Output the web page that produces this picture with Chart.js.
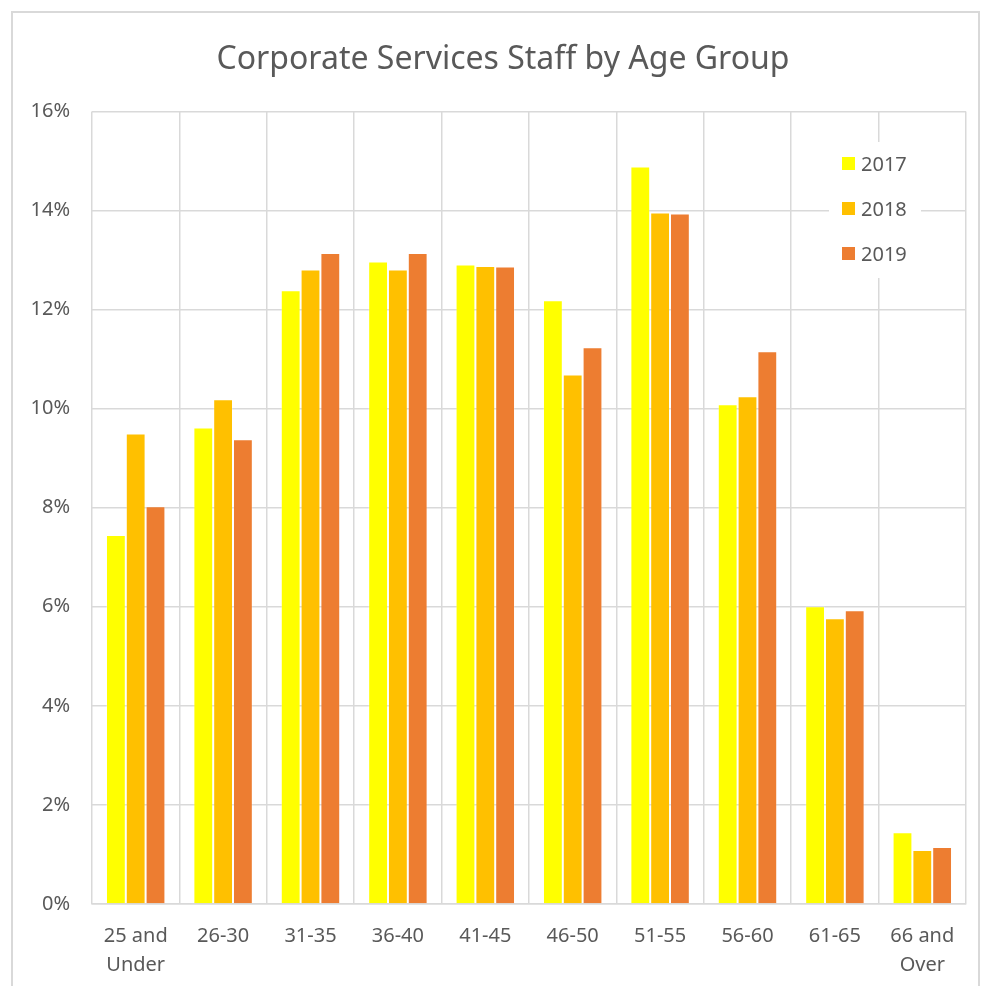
<!DOCTYPE html>
<html>
<head>
<meta charset="utf-8">
<script src="https://cdn.jsdelivr.net/npm/chart.js@4.4.1/dist/chart.umd.min.js"></script>
<style>
  html, body { margin: 0; padding: 0; background: #fff; overflow: hidden; width: 982px; height: 986px; }
  #frame { position: absolute; left: 11px; top: 11px; width: 965px; height: 990px; border: 2px solid #d9d9d9; }
  #wrap { position: absolute; left: 0; top: 0; width: 1022px; height: 986px; }
</style>
</head>
<body>
<div id="frame"></div>
<div id="wrap"><canvas id="grafica"></canvas></div>
<script>
const categorias = [['25 and', 'Under'], '26-30', '31-35', '36-40', '41-45', '46-50', '51-55', '56-60', '61-65', ['66 and', 'Over']];
const anios = ['2017', '2018', '2019'];
const valores2017 = [7.45, 9.62, 12.39, 12.97, 12.91, 12.19, 14.89, 10.09, 6.01, 1.45];
const valores2018 = [9.50, 10.19, 12.81, 12.81, 12.88, 10.69, 13.96, 10.25, 5.77, 1.09];
const valores2019 = [8.03, 9.38, 13.14, 13.14, 12.87, 11.24, 13.94, 11.16, 5.93, 1.15];
const colores = ['#FFFF00', '#FFC000', '#ED7D31'];
const ticksY = [0, 2, 4, 6, 8, 10, 12, 14, 16];

const fuente = "'Noto Sans', sans-serif";
const gris = '#595959';

// legend drawn inside the plot area (top right), like the original
const leyendaInterna = {
  id: 'leyendaInterna',
  afterDatasetsDraw(chart) {
    const ctx = chart.ctx;
    const x0 = 829, y0 = 142;
    ctx.save();
    ctx.fillStyle = '#fff';
    ctx.fillRect(x0, y0, 92, 136);
    ctx.font = '20px ' + fuente;
    ctx.textBaseline = 'middle';
    chart.data.datasets.forEach((ds, i) => {
      const y = 164 + i * 45;
      ctx.fillStyle = ds.backgroundColor;
      ctx.fillRect(842, y - 7, 13, 13);
      ctx.fillStyle = gris;
      ctx.fillText(ds.label, 861, y + 1);
    });
    ctx.restore();
  }
};

const series = [valores2017, valores2018, valores2019];

new Chart(document.getElementById('grafica'), {
  type: 'bar',
  data: {
    labels: categorias,
    datasets: anios.map((a, i) => ({
      label: a,
      data: series[i],
      backgroundColor: colores[i],
      borderColor: 'rgba(255,255,255,0.25)',
      borderWidth: 1,
      categoryPercentage: 0.68,
      barPercentage: 1.0
    }))
  },
  options: {
    animation: false,
    responsive: true,
    maintainAspectRatio: false,
    layout: { padding: { top: 14, right: 16, left: 0, bottom: 0 } },
    plugins: {
      legend: { display: false },
      tooltip: { enabled: false },
      title: {
        display: true,
        text: 'Corporate Services Staff by Age Group',
        color: gris,
        font: { family: fuente, size: 32, weight: 'normal' },
        padding: { top: 27, bottom: 32 }
      }
    },
    scales: {
      x: {
        grid: { color: '#d9d9d9', lineWidth: 1.5, drawTicks: false, offset: true },
        border: { color: '#d9d9d9', width: 1.5 },
        ticks: {
          color: gris,
          font: { family: fuente, size: 20, lineHeight: 1.45 },
          padding: 18,
          maxRotation: 0,
          autoSkip: false
        },
        afterFit(scale) { scale.height = 82; }
      },
      y: {
        min: 0,
        max: 16,
        afterBuildTicks(scale) { scale.ticks = ticksY.map(v => ({ value: v })); },
        grid: { color: '#d9d9d9', lineWidth: 1.5, drawTicks: false },
        border: { display: false },
        ticks: {
          color: gris,
          font: { family: fuente, size: 20 },
          padding: 22,
          callback: (v) => v + '%'
        },
        afterFit(scale) { scale.width = 92; }
      },
      // empty axis on the right, only keeps the title centred like the original
      espacio: {
        position: 'right',
        grid: { display: false },
        border: { display: false },
        ticks: { display: false },
        afterFit(scale) { scale.width = 40; }
      }
    }
  },
  plugins: [leyendaInterna]
});
</script>
</body>
</html>
